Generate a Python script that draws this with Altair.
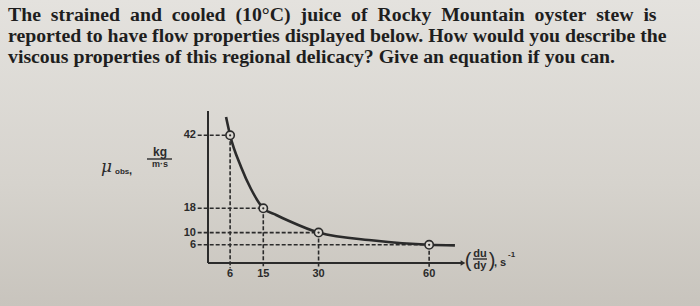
import altair as alt
import pandas as pd

# ---- data ----
rate = [6, 15, 30, 60]          # shear rate, s^-1
mu = [42, 18, 10, 6]            # apparent viscosity, kg/(m s)
curve_rate = [4.9, 6, 9, 11.6, 15, 18.5, 22, 30, 45, 60, 67]
curve_mu = [48, 42, 31.5, 24.5, 18, 15.8, 13.8, 10, 7.4, 6, 5.8]
title_lines = [
    "The strained and cooled (10°C) juice of Rocky Mountain oyster stew is",
    "reported to have flow properties displayed below. How would you describe the",
    "viscous properties of this regional delicacy? Give an equation if you can.",
]
# widen word gaps of the justified first line
title_shown = [title_lines[0].replace(" ", "\u00a0 ")] + title_lines[1:]

INK = "#2b2b2b"
XS = alt.Scale(domain=[0, 70], nice=False, zero=False)
YS = alt.Scale(domain=[0, 50], nice=False, zero=False)

pts = pd.DataFrame({"rate": rate, "mu": mu})
crv = pd.DataFrame({"rate": curve_rate, "mu": curve_mu})
one = pd.DataFrame({"a": [0]})
ttl = pd.DataFrame({"line": title_shown, "i": list(range(len(title_shown)))})

bg = alt.Chart(one).mark_rect(
    color=alt.Gradient(
        gradient="linear",
        stops=[alt.GradientStop(color="#e4e2de", offset=0),
               alt.GradientStop(color="#d6d3cd", offset=0.6),
               alt.GradientStop(color="#c8c4bd", offset=1)],
        x1=0, x2=0, y1=0, y2=1)
).encode(x=alt.value(-208), x2=alt.value(492), y=alt.value(-111), y2=alt.value(195))

hdash = alt.Chart(pts).transform_calculate(x0="-2.8").mark_rule(
    color=INK, strokeWidth=1.6, strokeDash=[4, 2]
).encode(x=alt.X("x0:Q", scale=XS, axis=None), x2="rate:Q",
         y=alt.Y("mu:Q", scale=YS, axis=None))

vdash = alt.Chart(pts).transform_calculate(y0="-1.7").mark_rule(
    color=INK, strokeWidth=1.6, strokeDash=[4, 2]
).encode(x=alt.X("rate:Q", scale=XS, axis=None),
         y=alt.Y("mu:Q", scale=YS, axis=None), y2="y0:Q")

yaxis = alt.Chart(one).mark_rule(color=INK, strokeWidth=2).encode(
    x=alt.value(0), y=alt.value(0), y2=alt.value(152))
xaxis = alt.Chart(one).mark_rule(color=INK, strokeWidth=2).encode(
    x=alt.value(0), x2=alt.value(255), y=alt.value(152))
arrow = alt.Chart(one).mark_point(shape="triangle-right", filled=True, color=INK,
                                  size=30, opacity=1).encode(
    x=alt.value(255), y=alt.value(152))

curve = alt.Chart(crv).mark_line(color=INK, strokeWidth=2.6,
                                 interpolate="monotone").encode(
    x=alt.X("rate:Q", scale=XS, axis=None), y=alt.Y("mu:Q", scale=YS, axis=None))

circ = alt.Chart(pts).mark_point(shape="circle", filled=True, fill="#dad7d1",
                                 stroke=INK, strokeWidth=1.6, size=70,
                                 opacity=1).encode(
    x=alt.X("rate:Q", scale=XS, axis=None), y=alt.Y("mu:Q", scale=YS, axis=None))
dot = alt.Chart(pts).mark_point(shape="circle", filled=True, color=INK,
                                size=5, opacity=1).encode(
    x=alt.X("rate:Q", scale=XS, axis=None), y=alt.Y("mu:Q", scale=YS, axis=None))

lab_font = dict(font="Liberation Sans", fontWeight="bold", fontSize=11, color=INK)
ylab = alt.Chart(pts).mark_text(align="right", baseline="middle", **lab_font).encode(
    x=alt.value(-12), y=alt.Y("mu:Q", scale=YS, axis=None), text="mu:Q")
xlab = alt.Chart(pts).mark_text(align="center", baseline="middle", **lab_font).encode(
    x=alt.X("rate:Q", scale=XS, axis=None), y=alt.value(163), text="rate:Q")

def txt(s, x, y, size, align="left", baseline="alphabetic", **kw):
    return alt.Chart(one).mark_text(align=align, baseline=baseline, fontSize=size,
                                    color=INK, **kw).encode(
        x=alt.value(x), y=alt.value(y), text=alt.value(s))

sans = dict(font="Liberation Sans", fontWeight="bold")
ytitle = [
    txt("μ", -107, 61, 17, font="DejaVu Serif", fontStyle="italic"),
    txt("obs", -93, 63, 8, **sans),
    txt(",", -79, 63, 11, **sans),
    txt("kg", -48, 45, 12, align="center", **sans),
    alt.Chart(one).mark_rule(color=INK, strokeWidth=1.4).encode(
        x=alt.value(-61), x2=alt.value(-36), y=alt.value(48)),
    txt("m·s", -48, 56, 9, align="center", **sans),
]
xtitle = [
    txt("(", 260, 150, 20, align="center", baseline="middle", font="Liberation Sans"),
    txt("du", 272, 145.5, 11, align="center", **sans),
    alt.Chart(one).mark_rule(color=INK, strokeWidth=1.4).encode(
        x=alt.value(265), x2=alt.value(279), y=alt.value(148)),
    txt("dy", 272, 157.5, 11, align="center", **sans),
    txt(")", 284, 150, 20, align="center", baseline="middle", font="Liberation Sans"),
    txt(", s", 286, 155, 11, **sans),
    txt("-1", 300, 146, 8, **sans),
]

title = alt.Chart(ttl).transform_calculate(yy="datum.i * 21 - 90").mark_text(
    align="left", baseline="alphabetic", font="Liberation Serif", fontSize=19.8,
    fontWeight="bold", color="#1e1e1e"
).encode(x=alt.value(-200), y=alt.Y("yy:Q", scale=None), text="line:N")

chart = alt.layer(bg, hdash, vdash, yaxis, xaxis, arrow, curve, circ, dot,
                  ylab, xlab, *ytitle, *xtitle, title).properties(
    width=258, height=152,
    autosize=alt.AutoSizeParams(type="none"),
    padding={"left": 208, "top": 111, "right": 234, "bottom": 43},
    background="#d6d3cd",
).configure_view(stroke=None)

chart.save("out.html", embed_options={"renderer": "svg", "actions": False})
